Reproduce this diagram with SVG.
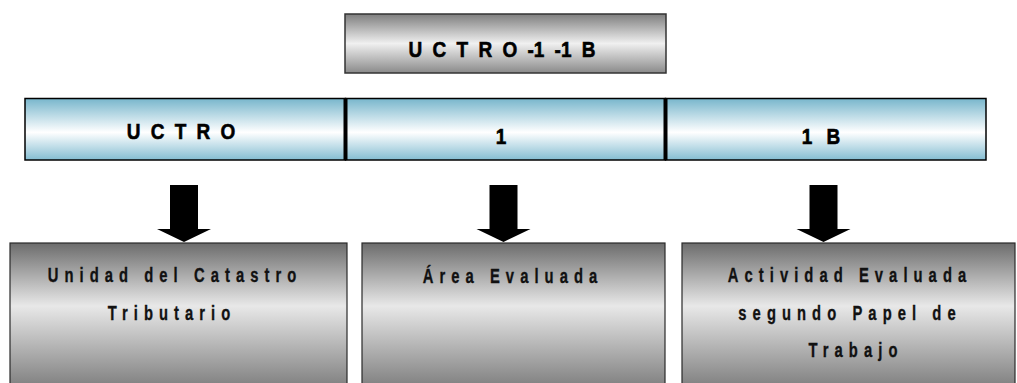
<svg xmlns="http://www.w3.org/2000/svg" width="1017" height="383" viewBox="0 0 1017 383">
  <defs>
    <!-- silver band used by the code box -->
    <linearGradient id="silver" x1="0" y1="0" x2="0" y2="1">
      <stop offset="0" stop-color="#7e7e7e"/>
      <stop offset="0.5" stop-color="#f0f0f0"/>
      <stop offset="1" stop-color="#8a8a8a"/>
    </linearGradient>
    <!-- light blue band used by the segment bar -->
    <linearGradient id="sky" x1="0" y1="0" x2="0" y2="1">
      <stop offset="0" stop-color="#78b6cc"/>
      <stop offset="0.55" stop-color="#ffffff"/>
      <stop offset="1" stop-color="#84bdd2"/>
    </linearGradient>
    <!-- grey band used by the description boxes -->
    <linearGradient id="steel" gradientUnits="userSpaceOnUse" x1="0" y1="243" x2="0" y2="383">
      <stop offset="0" stop-color="#6c6c6c"/>
      <stop offset="0.45" stop-color="#e8e8e8"/>
      <stop offset="1" stop-color="#858585"/>
    </linearGradient>
  </defs>
  <style>
    .code { font-family: "Liberation Sans", Arial, sans-serif; font-weight: bold; font-size: 19px; fill: #000; stroke: #000; stroke-width: 0.5; text-anchor: middle; word-spacing: 5px; }
    .desc { font-family: "Liberation Sans", Arial, sans-serif; font-weight: bold; font-size: 18px; fill: #111; stroke: #111; stroke-width: 0.3; text-anchor: middle; letter-spacing: 7.4px; }
    .seg { fill: url(#sky); stroke: #000; stroke-width: 1.5; }
    .box { fill: url(#steel); stroke: #2a2a2a; stroke-width: 1.2; }
    .divider { stroke: #000; stroke-width: 4; }
    .arrow { fill: #000; }
  </style>

  <rect width="1017" height="383" fill="#fff"/>

  <!-- full code -->
  <g id="code">
    <rect x="345" y="14" width="321" height="59" fill="url(#silver)" stroke="#333" stroke-width="1.5"/>
    <text class="code" transform="translate(502,57) scale(1,1.2)">U C T R O -1 -1 B</text>
  </g>

  <!-- segmented bar -->
  <g id="seg-uctro">
    <rect class="seg" x="25" y="98.5" width="320.5" height="61.5"/>
    <text class="code" transform="translate(181,139) scale(1,1.2)">U C T R O</text>
  </g>
  <g id="seg-1">
    <rect class="seg" x="345.5" y="98.5" width="320" height="61.5"/>
    <text class="code" transform="translate(501,144) scale(1,1.2)">1</text>
  </g>
  <g id="seg-1b">
    <rect class="seg" x="665.5" y="98.5" width="320.5" height="61.5"/>
    <text class="code" transform="translate(821,144) scale(1,1.2)" style="word-spacing:9px">1 B</text>
  </g>
  <g id="bar-dividers">
    <line class="divider" x1="345.5" y1="98.5" x2="345.5" y2="160"/>
    <line class="divider" x1="665.5" y1="98.5" x2="665.5" y2="160"/>
  </g>

  <!-- block arrows -->
  <g id="connectors">
    <polygon class="arrow" points="170,185 198,185 198,229 211,229 184,242 157,229 170,229"/>
    <polygon class="arrow" points="489.5,185 517.5,185 517.5,229 530.5,229 503.5,242 476.5,229 489.5,229"/>
    <polygon class="arrow" points="809.5,185 837.5,185 837.5,229 850.5,229 823.5,242 796.5,229 809.5,229"/>
  </g>

  <!-- descriptions -->
  <g id="desc-uctro">
    <rect class="box" x="10" y="243" width="337" height="150"/>
    <text class="desc" transform="translate(175,282) scale(0.82,1.15)">Unidad del Catastro</text>
    <text class="desc" transform="translate(172,320) scale(0.82,1.15)">Tributario</text>
  </g>
  <g id="desc-1">
    <rect class="box" x="362" y="243" width="303" height="150"/>
    <text class="desc" transform="translate(513,283) scale(0.82,1.15)">Área Evaluada</text>
  </g>
  <g id="desc-1b">
    <rect class="box" x="682" y="243" width="333" height="150"/>
    <text class="desc" transform="translate(850,282) scale(0.82,1.15)">Actividad Evaluada</text>
    <text class="desc" transform="translate(850,320) scale(0.82,1.15)">segundo Papel de</text>
    <text class="desc" transform="translate(856,357) scale(0.82,1.15)">Trabajo</text>
  </g>
</svg>
